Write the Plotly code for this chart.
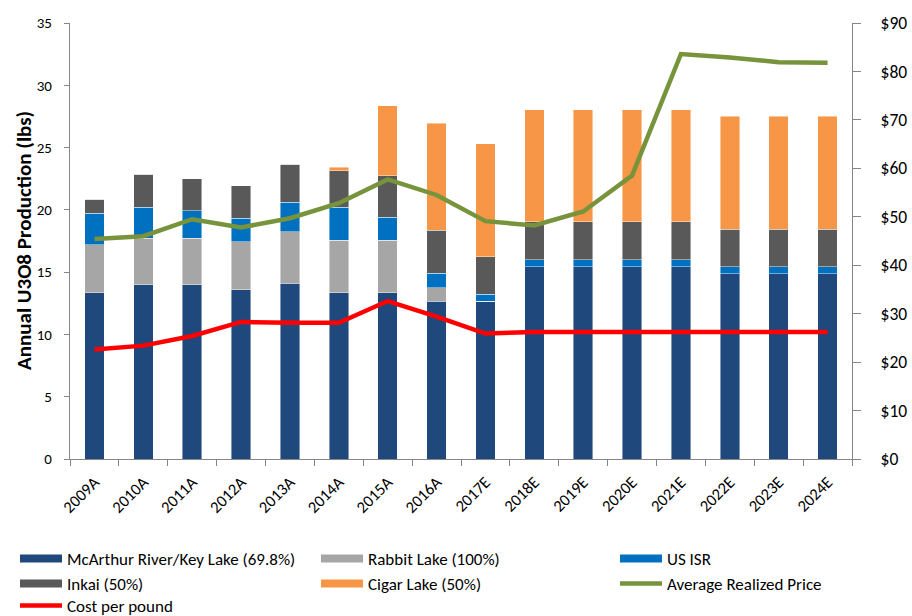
import plotly.graph_objects as go

years = ["2009A", "2010A", "2011A", "2012A", "2013A", "2014A", "2015A", "2016A",
         "2017E", "2018E", "2019E", "2020E", "2021E", "2022E", "2023E", "2024E"]

mcarthur = [13.35, 13.97, 13.97, 13.57, 14.10, 13.35, 13.35, 12.66,
            12.66, 15.44, 15.44, 15.44, 15.44, 14.88, 14.88, 14.88]
rabbit = [3.83, 3.75, 3.75, 3.88, 4.15, 4.23, 4.23, 1.07,
          0, 0, 0, 0, 0, 0, 0, 0]
us_isr = [2.54, 2.48, 2.21, 1.87, 2.35, 2.62, 1.82, 1.17,
          0.56, 0.56, 0.56, 0.56, 0.56, 0.56, 0.56, 0.56]
inkai = [1.15, 2.65, 2.55, 2.62, 3.05, 2.94, 3.32, 3.46,
         3.02, 3.03, 3.03, 3.03, 3.03, 3.02, 3.02, 3.02]
cigar = [0, 0, 0, 0, 0, 0.28, 5.62, 8.61,
         9.05, 8.99, 8.99, 8.99, 8.99, 9.04, 9.04, 9.04]
avg_price = [45.4, 46.0, 49.5, 47.8, 49.7, 52.8, 57.7, 54.5,
             49.1, 48.2, 51.1, 58.5, 83.6, 82.9, 81.9, 81.8]
cost = [22.6, 23.4, 25.4, 28.3, 28.1, 28.1, 32.6, 29.4,
        25.9, 26.2, 26.2, 26.2, 26.2, 26.2, 26.2, 26.2]

FONT = "Carlito, Lato, Liberation Sans, Arial, sans-serif"
W, H = 912, 616
ML, MR, MT, MB = 70, 60, 23, 157
edge = dict(color="rgba(255,255,255,0.55)", width=0.8)

# legend grid in pixels
col_x = [15, 316, 615]
row_y = [559, 584, 606]

fig = go.Figure()
bar_series = [
    ("McArthur River/Key Lake (69.8%)", mcarthur, "#1F497D", 0, 0),
    ("Rabbit Lake (100%)", rabbit, "#A6A6A6", 1, 0),
    ("US ISR", us_isr, "#0070C0", 2, 0),
    ("Inkai (50%)", inkai, "#595959", 0, 1),
    ("Cigar Lake (50%)", cigar, "#F79646", 1, 1),
]
legends = {}
idx = 0
for name, vals, col, c, r in bar_series:
    fig.add_trace(go.Bar(x=years, y=vals, name=name, marker=dict(color=col, line=edge),
                         showlegend=False))
    idx += 1
    lid = "legend" if idx == 1 else f"legend{idx}"
    legends[lid] = (col_x[c], row_y[r])
    # legend swatch (wide rectangle like the original)
    fig.add_trace(go.Scatter(x=[None], y=[None], mode="lines", name=name,
                             line=dict(color=col, width=8), legend=lid, hoverinfo="skip"))

line_series = [
    ("Average Realized Price", avg_price, "#77933C", 2, 1),
    ("Cost per pound", cost, "#FF0000", 0, 2),
]
for name, vals, col, c, r in line_series:
    idx += 1
    lid = f"legend{idx}"
    legends[lid] = (col_x[c], row_y[r])
    fig.add_trace(go.Scatter(x=years, y=vals, name=name, mode="lines",
                             line=dict(color=col, width=4.5), yaxis="y2", legend=lid))

axis_col = "#868686"
legend_layout = {}
for lid, (lx, ly) in legends.items():
    legend_layout[lid] = dict(orientation="v", xref="container", yref="container",
                              x=lx / W, y=1 - ly / H, xanchor="left", yanchor="middle",
                              itemwidth=42, font=dict(family=FONT, size=17, color="#000000"),
                              bgcolor="rgba(0,0,0,0)")

plot_w = W - ML - MR
fig.update_layout(
    width=W, height=H,
    margin=dict(l=ML, r=MR, t=MT, b=MB, autoexpand=False),
    plot_bgcolor="white", paper_bgcolor="white",
    barmode="stack", bargap=0.6,
    font=dict(family=FONT, color="#000000"),
    xaxis=dict(type="category", showline=True, linecolor=axis_col, linewidth=1.2,
               ticks="outside", tickson="boundaries", ticklen=6, tickcolor=axis_col,
               tickangle=-45, tickfont=dict(size=16.5, family=FONT), showgrid=False,
               ticklabelstandoff=6, automargin=False),
    yaxis=dict(range=[0, 35], dtick=5, showline=True, linecolor=axis_col, linewidth=1.2,
               ticks="outside", ticklen=5, tickcolor=axis_col, showgrid=False, zeroline=False,
               tickfont=dict(size=15, family=FONT), ticklabelstandoff=9, automargin=False),
    yaxis2=dict(range=[0, 90], dtick=10, tickprefix="$", overlaying="y", side="right",
                showline=True, linecolor=axis_col, linewidth=1.2, ticks="outside", ticklen=8,
                tickcolor=axis_col, showgrid=False, zeroline=False, ticklabelstandoff=16,
                tickfont=dict(size=17.5, family=FONT), automargin=False),
    annotations=[dict(text="<b>Annual U3O8 Production (lbs)</b>", textangle=-90,
                      xref="paper", yref="paper", x=(24 - ML) / plot_w, y=0.5,
                      xanchor="center", yanchor="middle", showarrow=False,
                      font=dict(size=21, family=FONT, color="#000000"))],
    **legend_layout,
)

# remove the browser's default 8px body margin so the figure fills the window exactly
fig.write_html("out.html", config={"displayModeBar": False},
               post_script="document.body.style.margin='0';document.body.style.overflow='hidden';")
